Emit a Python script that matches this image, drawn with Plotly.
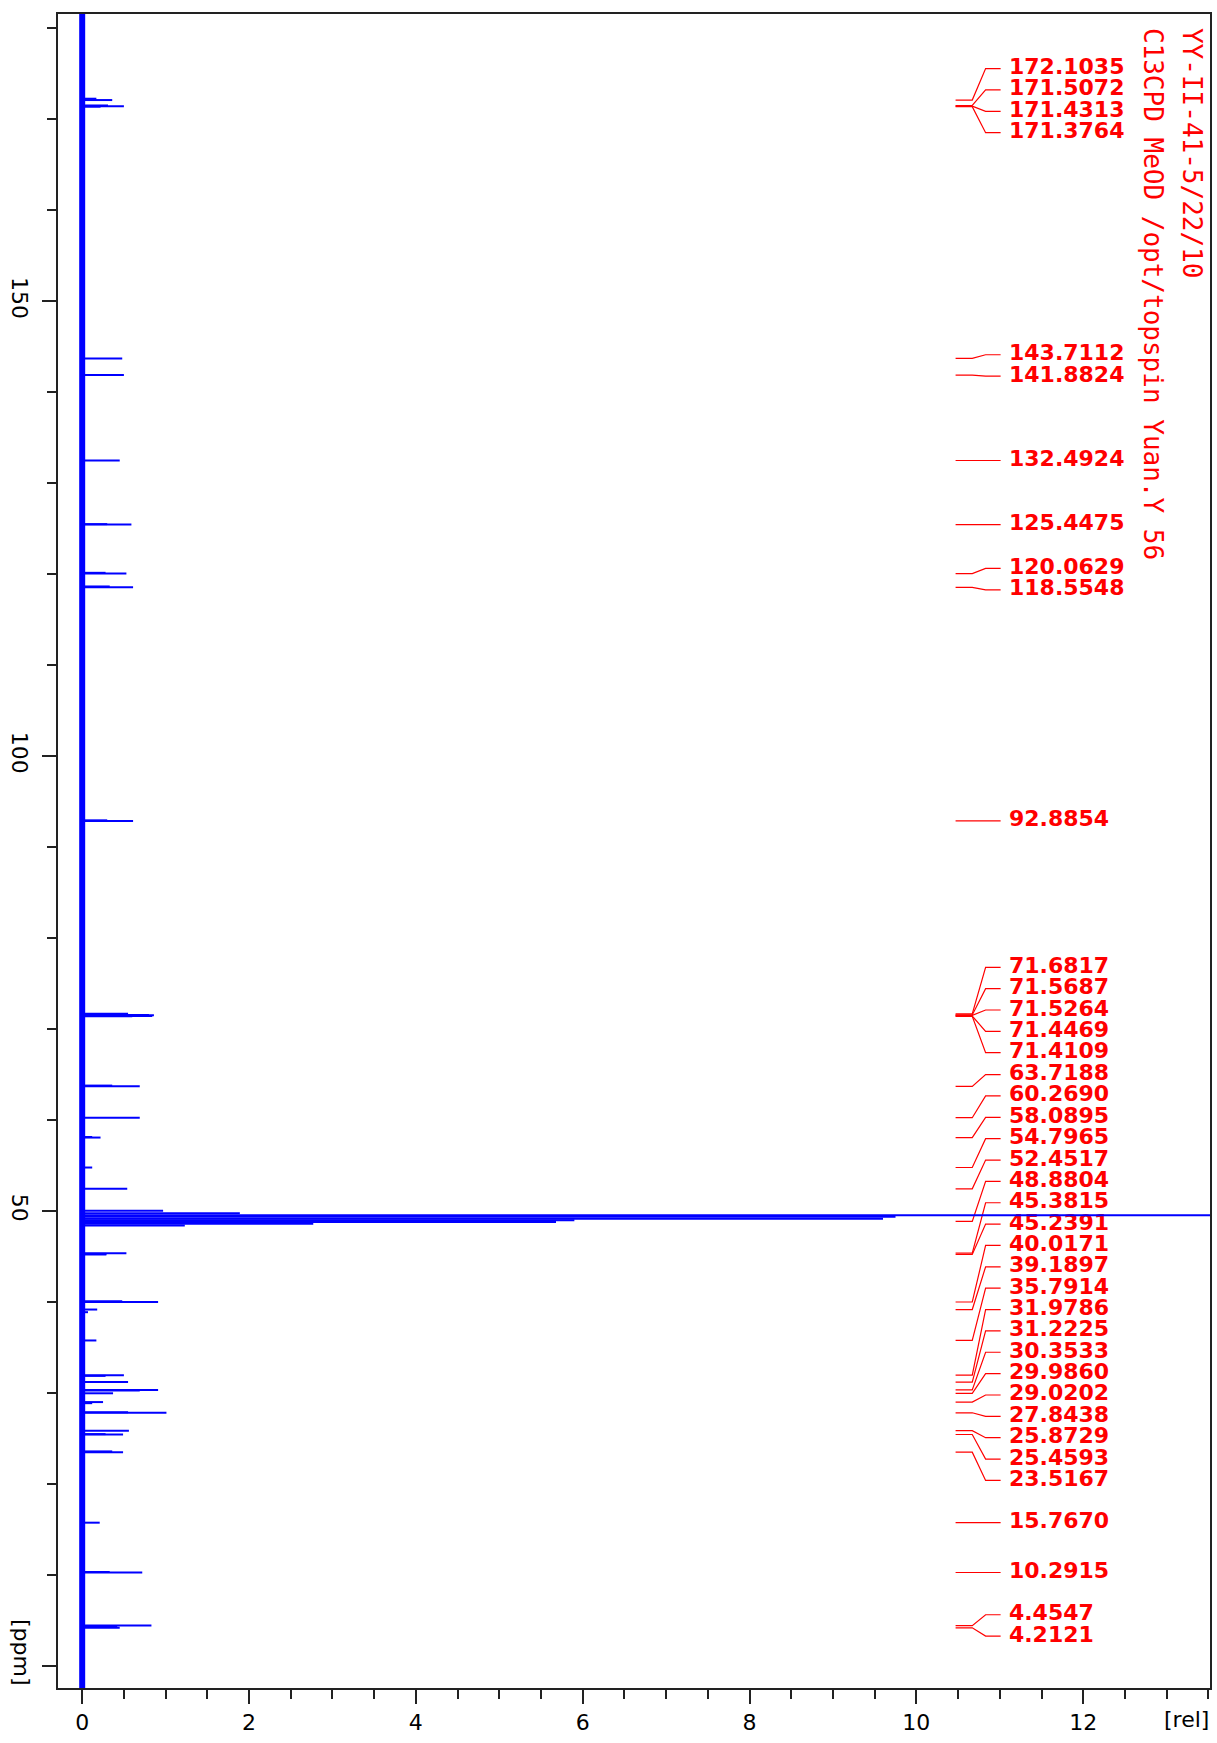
import plotly.graph_objects as go

# ---------------- data ----------------
peak_labels = ["172.1035", "171.5072", "171.4313", "171.3764",
               "143.7112", "141.8824", "132.4924", "125.4475",
               "120.0629", "118.5548", "92.8854",
               "71.6817", "71.5687", "71.5264", "71.4469", "71.4109",
               "63.7188", "60.2690", "58.0895", "54.7965", "52.4517",
               "48.8804", "45.3815", "45.2391", "40.0171", "39.1897",
               "35.7914", "31.9786", "31.2225", "30.3533", "29.9860",
               "29.0202", "27.8438", "25.8729", "25.4593", "23.5167",
               "15.7670", "10.2915", "4.4547", "4.2121"]
peak_ppm = [172.1035, 171.5072, 171.4313, 171.3764,
            143.7112, 141.8824, 132.4924, 125.4475,
            120.0629, 118.5548, 92.8854,
            71.6817, 71.5687, 71.5264, 71.4469, 71.4109,
            63.7188, 60.2690, 58.0895, 54.7965, 52.4517,
            48.8804, 45.3815, 45.2391, 40.0171, 39.1897,
            35.7914, 31.9786, 31.2225, 30.3533, 29.9860,
            29.0202, 27.8438, 25.8729, 25.4593, 23.5167,
            15.7670, 10.2915, 4.4547, 4.2121]
peak_int = [0.36, 0.31, 0.50, 0.22,
            0.48, 0.50, 0.45, 0.59,
            0.53, 0.61, 0.61,
            0.55, 0.80, 0.86, 0.84, 0.60,
            0.69, 0.69, 0.22, 0.12, 0.54,
            0.60, 0.53, 0.29, 0.91, 0.18,
            0.17, 0.50, 0.55, 0.91, 0.37,
            0.25, 1.01, 0.56, 0.49, 0.49,
            0.21, 0.72, 0.83, 0.45]

# unlabeled lines / broad bases seen in the trace
extra_ppm = [172.25, 120.15, 118.65, 92.95, 63.80, 58.15, 45.30, 40.10, 38.90,
             31.90, 30.30, 28.90, 27.90, 25.50, 23.60, 10.35, 4.35, 125.50]
extra_int = [0.17, 0.28, 0.33, 0.30, 0.36, 0.12, 0.29, 0.48, 0.07,
             0.28, 0.69, 0.12, 0.55, 0.28, 0.36, 0.33, 0.42, 0.30]

# CD3OD solvent multiplet
solvent_ppm = [50.05, 49.77, 49.55, 49.38, 49.18, 49.00, 48.82, 48.62, 48.42]
solvent_int = [0.97, 1.89, 14.0, 9.75, 9.6, 5.9, 5.68, 2.77, 1.23]

baseline_ppm = [-3.0, 183.0]

x_ticks = [0, 2, 4, 6, 8, 10, 12]
y_ticks = [0, 50, 100, 150]
y_tick_text = ["", "50", "100", "150"]
title_lines = ["YY-II-41-5/22/10", "C13CPD MeOD /opt/topspin Yuan.Y 56"]
x_unit = "[rel]"
y_unit = "[ppm]"

# ---------------- layout constants ----------------
W, H = 1217, 1743
ML, MR, MT, MB = 58, 5, 14, 55
X_RANGE = [-0.29, 13.52]
Y_RANGE = [-2.4, 181.56]
PLOT_H = H - MT - MB
PPM_PER_PX = (Y_RANGE[1] - Y_RANGE[0]) / PLOT_H
ROW = 21.36 * PPM_PER_PX      # label row pitch
PAD = 24.0 * PPM_PER_PX       # cluster centring pitch

LEAD_X = [10.47, 10.67, 10.83, 11.01]
TEXT_X = 11.11
RED = "#FF0000"
BLUE = "#0000FF"


def place_labels(ppms):
    order = sorted(range(len(ppms)), key=lambda i: -ppms[i])
    clusters = [[i] for i in order]

    def pos(c):
        m = sum(ppms[i] for i in c) / len(c)
        top = m + (len(c) - 1) / 2 * PAD
        return [top - k * ROW for k in range(len(c))]

    changed = True
    while changed:
        changed = False
        for j in range(len(clusters) - 1):
            a = pos(clusters[j])
            b = pos(clusters[j + 1])
            if a[-1] - b[0] < ROW - 1e-9:
                clusters[j] = clusters[j] + clusters[j + 1]
                del clusters[j + 1]
                changed = True
                break
    out = {}
    for c in clusters:
        for i, y in zip(c, pos(c)):
            out[i] = y
    return [out[i] for i in range(len(ppms))]


label_y = place_labels(peak_ppm)

fig = go.Figure()

# leader lines
lx, ly = [], []
for p, yl in zip(peak_ppm, label_y):
    lx += LEAD_X + [None]
    ly += [p, p, yl, yl, None]
fig.add_trace(go.Scatter(x=lx, y=ly, mode="lines",
                         line=dict(color=RED, width=1.2),
                         hoverinfo="skip", showlegend=False))

# peak labels
fig.add_trace(go.Scatter(x=[TEXT_X] * len(peak_labels), y=label_y,
                         mode="text", text=peak_labels,
                         textposition="middle right",
                         textfont=dict(family="DejaVu Sans", size=22,
                                       color=RED, weight="bold"),
                         hoverinfo="skip", showlegend=False))

# spectrum: baseline
fig.add_trace(go.Scatter(x=[0, 0], y=baseline_ppm, mode="lines",
                         line=dict(color=BLUE, width=6),
                         hoverinfo="skip", showlegend=False))

# spectrum: lines
sx, sy = [], []
for p, h in list(zip(peak_ppm, peak_int)) + list(zip(extra_ppm, extra_int)) + \
        list(zip(solvent_ppm, solvent_int)):
    sx += [0, h, None]
    sy += [p, p, None]
fig.add_trace(go.Scatter(x=sx, y=sy, mode="lines",
                         line=dict(color=BLUE, width=2),
                         hoverinfo="skip", showlegend=False))

axis_common = dict(showgrid=False, zeroline=False, showline=True, mirror=True,
                   linecolor="#222222", linewidth=1.5, ticks="outside",
                   ticklen=14, tickwidth=1.5, tickcolor="#222222",
                   tickfont=dict(family="DejaVu Sans", size=22, color="black"))

fig.update_layout(
    width=W, height=H,
    margin=dict(l=ML, r=MR, t=MT, b=MB),
    paper_bgcolor="white", plot_bgcolor="white",
    showlegend=False,
    xaxis=dict(range=X_RANGE, tickvals=x_ticks,
               minor=dict(dtick=0.5, tick0=0, ticks="outside", ticklen=9,
                          tickwidth=1.5, tickcolor="#222222"),
               **axis_common),
    yaxis=dict(range=Y_RANGE, tickvals=y_ticks, ticktext=y_tick_text,
               tickangle=90, ticklabelstandoff=4,
               minor=dict(dtick=10, tick0=0, ticks="outside", ticklen=9,
                          tickwidth=1.5, tickcolor="#222222"),
               **axis_common),
)

# units
fig.add_annotation(text=x_unit, xref="x", yref="paper", x=13.24, y=0,
                   yanchor="top", yshift=-17, showarrow=False,
                   font=dict(family="DejaVu Sans", size=22, color="black"))
fig.add_annotation(text=y_unit, xref="paper", yref="paper",
                   x=-36 / (W - ML - MR), y=(36) / PLOT_H,
                   xanchor="center", yanchor="middle", textangle=90,
                   showarrow=False,
                   font=dict(family="DejaVu Sans", size=22, color="black"))

# title block (rotated, top right)
title_x = [1194, 1155]
for t, xp in zip(title_lines, title_x):
    fig.add_annotation(text=t, xref="paper", yref="paper",
                       x=(xp - ML) / (W - ML - MR), y=1 - 12 / PLOT_H,
                       xanchor="center", yanchor="top", textangle=90,
                       showarrow=False,
                       font=dict(family="DejaVu Sans Mono", size=26, color=RED))

fig.write_html("out.html", config={"displayModeBar": False},
               post_script="document.body.style.margin='0';")
